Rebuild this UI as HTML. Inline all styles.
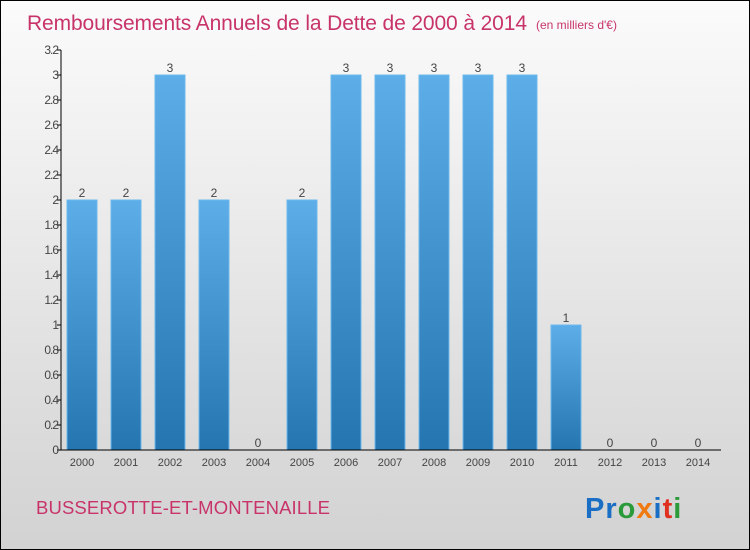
<!DOCTYPE html>
<html><head><meta charset="utf-8"><style>
body{margin:0;}
#c{width:748px;height:548px;border:1px solid #000;background:linear-gradient(#fbfbfb,#d2d2d2);position:relative;font-family:"Liberation Sans",sans-serif;}
</style></head><body>
<div id="c">
<svg id="s" width="748" height="548" style="position:absolute;left:0;top:0">
<defs><linearGradient id="g" x1="0" y1="0" x2="0" y2="1"><stop offset="0" stop-color="#5daee8"/><stop offset="1" stop-color="#2575b0"/></linearGradient></defs>
<text x="26" y="29" font-size="21" fill="#c8346a" textLength="500">Remboursements Annuels de la Dette de 2000 à 2014</text>
<text x="535" y="28" font-size="12" fill="#c8346a">(en milliers d'€)</text>
<text x="35" y="513" font-size="18.5" fill="#c8346a" textLength="294">BUSSEROTTE-ET-MONTENAILLE</text>
<text x="584" y="517" font-size="29" font-weight="bold" letter-spacing="1"><tspan fill="#1a6fc4">Pr</tspan><tspan fill="#2a9a3a">o</tspan><tspan fill="#f07a10">x</tspan><tspan fill="#1a6fc4">i</tspan><tspan fill="#e03020">t</tspan><tspan fill="#2a9a3a">i</tspan></text>
<g id="plot"></g>
</svg>
</div>
<script>
const categories=["2000","2001","2002","2003","2004","2005","2006","2007","2008","2009","2010","2011","2012","2013","2014"];
const values=[2,2,3,2,0,2,3,3,3,3,3,1,0,0,0];
const tickLabels=["0","0.2","0.4","0.6","0.8","1","1.2","1.4","1.6","1.8","2","2.2","2.4","2.6","2.8","3","3.2"];
const NS="http://www.w3.org/2000/svg";
const g=document.getElementById('plot');
const y=v=>449-v*125;
const x=i=>59+i*44;
function mk(t,a){const e=document.createElementNS(NS,t);for(const k in a)e.setAttribute(k,a[k]);g.appendChild(e);return e;}
values.forEach((v,i)=>{
 if(v>0){const r=mk('rect',{x:x(i)+7,y:y(v),width:30,height:449-y(v),fill:'url(#g)',stroke:'#6cb8ec','stroke-width':1});
 
 }
 const t=mk('text',{x:x(i)+22,y:y(v)-3,'font-size':12,fill:'#444','text-anchor':'middle'});t.textContent=v;
 
 
 const c=mk('text',{x:x(i)+22,y:465,'font-size':11,fill:'#444','text-anchor':'middle'});c.textContent=categories[i];
 
 
});
tickLabels.forEach(l=>{
 const v=parseFloat(l);
 mk('line',{x1:56,x2:60,y1:y(v),y2:y(v),stroke:'#000'});
 const t=mk('text',{x:57,y:y(v)+4,'font-size':12,fill:'#444','text-anchor':'end','letter-spacing':'-1'});t.textContent=l;
 
 
});
const ya=mk('line',{x1:60,x2:60,y1:49,y2:449,stroke:'#000'});


const xa=mk('line',{x1:60,x2:720,y1:449,y2:449,stroke:'#000'});


</script>
</body></html>
